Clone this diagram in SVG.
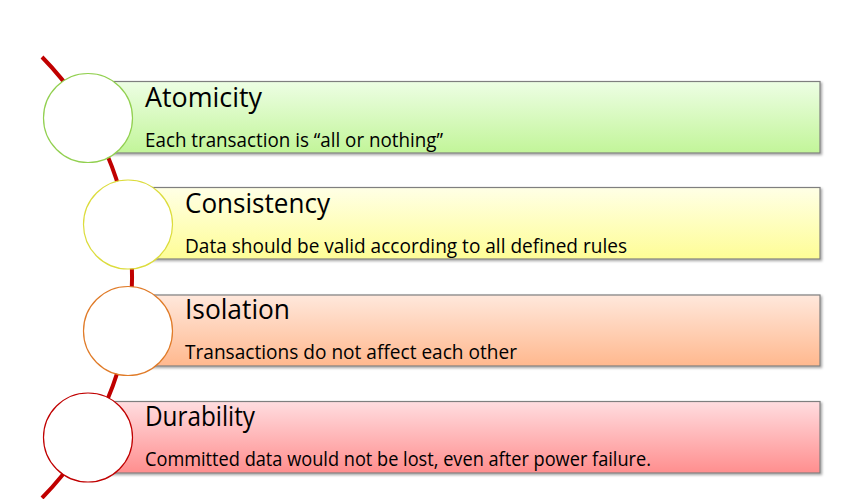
<svg xmlns="http://www.w3.org/2000/svg" width="853" height="499" viewBox="0 0 853 499">
  <defs>
    <linearGradient id="gGreen" x1="0" y1="0" x2="0" y2="1">
      <stop offset="0" stop-color="#EDFEE4"/>
      <stop offset="1" stop-color="#C2F599"/>
    </linearGradient>
    <linearGradient id="gYellow" x1="0" y1="0" x2="0" y2="1">
      <stop offset="0" stop-color="#FFFFE6"/>
      <stop offset="1" stop-color="#FEFD96"/>
    </linearGradient>
    <linearGradient id="gOrange" x1="0" y1="0" x2="0" y2="1">
      <stop offset="0" stop-color="#FFE8DC"/>
      <stop offset="1" stop-color="#FFB88E"/>
    </linearGradient>
    <linearGradient id="gRed" x1="0" y1="0" x2="0" y2="1">
      <stop offset="0" stop-color="#FFDDE0"/>
      <stop offset="1" stop-color="#FF8E8E"/>
    </linearGradient>
    <filter id="shadow" x="-5%" y="-10%" width="110%" height="130%">
      <feDropShadow dx="1.5" dy="1.5" stdDeviation="1.2" flood-color="#000" flood-opacity="0.35"/>
    </filter>
  </defs>
  <style>
    .box { stroke: #7F7F7F; stroke-width: 1.2; filter: url(#shadow); }
    .dot { fill: #FFFFFF; stroke-width: 1.2; }
    .title { font-family: "Open Sans", "Liberation Sans", sans-serif; font-size: 28px; fill: #000; }
    .desc { font-family: "Open Sans", "Liberation Sans", sans-serif; font-size: 20px; fill: #000; }
    .timeline { fill: none; stroke: #C00000; stroke-width: 4; }
  </style>
  <rect width="853" height="499" fill="#FFFFFF"/>

  <!-- curved timeline behind the markers -->
  <g id="connectors">
    <path class="timeline" d="M42,57 A315,315 0 0 1 42,498"/>
  </g>

  <g id="atomicity">
    <rect class="box" x="88" y="81.5" width="732" height="71.5" fill="url(#gGreen)"/>
    <circle class="dot" cx="88" cy="118" r="44.5" stroke="#92D050"/>
    <text class="title" x="145" y="107" textLength="117" lengthAdjust="spacingAndGlyphs">Atomicity</text>
    <text class="desc" x="145" y="147" textLength="298" lengthAdjust="spacingAndGlyphs">Each transaction is “all or nothing”</text>
  </g>

  <g id="consistency">
    <rect class="box" x="128" y="187.5" width="692" height="71.5" fill="url(#gYellow)"/>
    <circle class="dot" cx="128" cy="224.5" r="44.5" stroke="#DCDC3C"/>
    <text class="title" x="185" y="213" textLength="145" lengthAdjust="spacingAndGlyphs">Consistency</text>
    <text class="desc" x="185" y="253" textLength="442" lengthAdjust="spacingAndGlyphs">Data should be valid according to all defined rules</text>
  </g>

  <g id="isolation">
    <rect class="box" x="128" y="295" width="692" height="71" fill="url(#gOrange)"/>
    <circle class="dot" cx="128" cy="331" r="44.5" stroke="#E07B28"/>
    <text class="title" x="185" y="319" textLength="105" lengthAdjust="spacingAndGlyphs">Isolation</text>
    <text class="desc" x="185" y="359" textLength="332" lengthAdjust="spacingAndGlyphs">Transactions do not affect each other</text>
  </g>

  <g id="durability">
    <rect class="box" x="88" y="401.5" width="732" height="71.5" fill="url(#gRed)"/>
    <circle class="dot" cx="88" cy="437.5" r="44.5" stroke="#C00000"/>
    <text class="title" x="145" y="426" textLength="110" lengthAdjust="spacingAndGlyphs">Durability</text>
    <text class="desc" x="145" y="466" textLength="506" lengthAdjust="spacingAndGlyphs">Committed data would not be lost, even after power failure.</text>
  </g>
</svg>
